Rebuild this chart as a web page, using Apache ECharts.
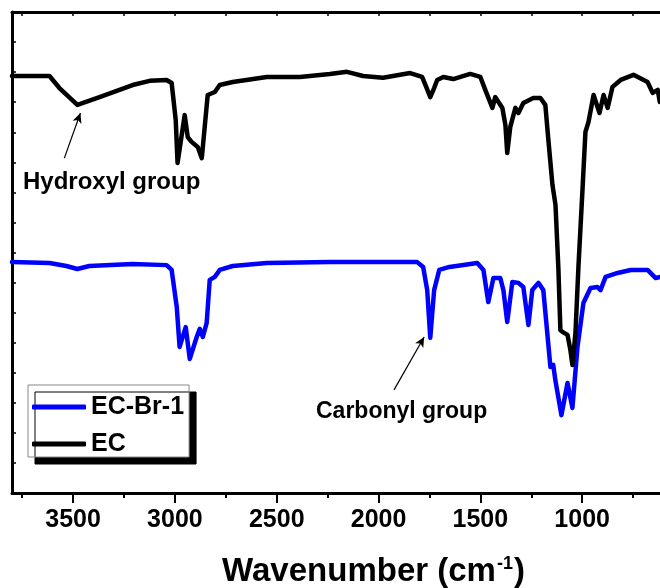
<!DOCTYPE html>
<html>
<head>
<meta charset="utf-8">
<script src="https://cdn.jsdelivr.net/npm/echarts@6/dist/echarts.min.js"></script>
<style>
html,body{margin:0;padding:0;background:#fff;}
#chart{width:660px;height:588px;}
</style>
</head>
<body>
<div id="chart"></div>
<script>
// FTIR spectra: wavenumber (cm-1) and transmittance (a.u., offset)
const EC_WN = [3800,3616,3567,3479,3370,3208,3124,3041,3016,2996,2987,2952,2937,2918,2888,2868,2839,2804,2780,2716,2549,2386,2239,2155,2076,1978,1845,1786,1766,1746,1727,1712,1682,1633,1550,1500,1476,1441,1427,1392,1377,1368,1353,1328,1313,1289,1240,1205,1181,1166,1146,1131,1117,1107,1097,1072,1058,1048,1033,1018,998,984,969,944,915,895,875,851,811,748,679,654,629,619];
const EC_T = [138.7,138.7,134.7,129.1,131.7,135.7,137.1,137.4,136.4,124.1,109.8,125.7,118.4,116.8,115.1,111.4,132.4,133.4,135.7,136.7,138.4,138.4,139.4,140.1,138.7,138.1,139.7,138.4,135.1,131.7,134.7,137.4,138.4,137.7,139.4,138.4,134.1,128.1,131.7,128.1,122.4,113.1,121.8,128.1,126.4,129.7,131.4,131.4,129.1,117.4,102.5,95.8,74.9,54.2,53.6,52.6,47.6,42.6,53.2,75.8,101.5,120.1,123.4,132.4,126.4,132.4,128.1,135.1,137.4,139.1,136.7,133.1,134.1,130.1];

const BR_WN = [3800,3616,3533,3479,3420,3208,3041,3016,2991,2977,2947,2927,2893,2878,2863,2844,2829,2804,2780,2716,2549,2239,1810,1781,1761,1746,1727,1702,1652,1515,1485,1461,1436,1402,1387,1368,1343,1313,1289,1264,1245,1215,1191,1156,1142,1132,1102,1072,1048,1023,994,959,925,910,885,826,762,679,639,615];
const BR_T = [76.8,76.5,75.5,74.5,75.5,76.2,75.8,74.2,61.9,48.6,55.2,44.6,51.9,54.6,51.9,56.6,70.9,71.9,74.2,75.5,76.5,76.8,76.8,75.2,67.5,51.6,67.5,74.2,75.2,76.5,74.2,63.5,71.5,71.5,67.5,56.9,70.2,69.9,68.5,55.9,67.5,69.9,67.5,41.9,42.6,37.6,25.9,36.6,28.3,48.6,63.2,68.2,68.5,67.5,71.9,73.2,74.2,74.2,71.5,71.9];

const SERIES_NAMES = ['EC-Br-1', 'EC'];
const MAJOR_TICKS = [1000, 1500, 2000, 2500, 3000, 3500];
const MINOR_TICKS = [750, 1250, 1750, 2250, 2750, 3250, 3750];
const TOP_TICKS = [750, 1000, 1250, 1500, 1750, 2000, 2250, 2500, 2750, 3000, 3250, 3500, 3750];
const X_MIN = 500, X_MAX = 3800, Y_MIN = 0, Y_MAX = 160, Y_STEP = 10;

// annotation arrows in data coordinates [wavenumber, value]
const ARROW_OH = [[3543, 111.4], [3464, 126.4]];
const ARROW_CO = [[1924, 34.3], [1776, 51.9]];

const FONT = '"Liberation Sans", Arial, Helvetica, sans-serif';

const ecData = EC_WN.map((w, i) => [w, EC_T[i]]);
const brData = BR_WN.map((w, i) => [w, BR_T[i]]);

const chart = echarts.init(document.getElementById('chart'), null, {renderer: 'canvas'});

const hiddenAxisBase = {
  type: 'value', min: X_MIN, max: X_MAX, inverse: true,
  axisLabel: {show: false}, splitLine: {show: false}
};

const option = {
  animation: false,
  backgroundColor: '#fff',
  grid: {left: 12, top: 12, width: 672, height: 481, containLabel: false, outerBoundsMode: 'none'},
  xAxis: [
    {
      type: 'value', min: X_MIN, max: X_MAX, inverse: true, position: 'bottom',
      axisLine: {show: true, onZero: false, lineStyle: {color: '#000', width: 3}},
      axisTick: {show: true, inside: false, length: 10, customValues: MAJOR_TICKS, lineStyle: {color: '#000', width: 2}},
      axisLabel: {show: true, customValues: MAJOR_TICKS, margin: 15, fontSize: 25, fontWeight: 'bold', color: '#000', fontFamily: FONT,
        formatter: function (v) { return String(v); }},
      splitLine: {show: false},
      name: '{a|Wavenumber (cm}{s|-1}{a|)}',
      nameLocation: 'middle',
      nameGap: 62,
      nameTextStyle: {
        fontSize: 33, fontWeight: 'bold', color: '#000', fontFamily: FONT,
        padding: [0, 0, 0, 51],
        rich: {
          a: {fontSize: 33, fontWeight: 'bold', color: '#000', fontFamily: FONT},
          s: {fontSize: 18, fontWeight: 'bold', color: '#000', fontFamily: FONT, verticalAlign: 'top', padding: [0, 1, 14, 1]}
        }
      }
    },
    Object.assign({}, hiddenAxisBase, {
      position: 'bottom',
      axisLine: {show: false, onZero: false},
      axisTick: {show: true, inside: false, length: 5, customValues: MINOR_TICKS, lineStyle: {color: '#000', width: 2}}
    }),
    Object.assign({}, hiddenAxisBase, {
      position: 'top',
      axisLine: {show: true, onZero: false, lineStyle: {color: '#000', width: 3}},
      axisTick: {show: true, inside: true, length: 4, customValues: TOP_TICKS, lineStyle: {color: '#000', width: 1.5}}
    })
  ],
  yAxis: {
    type: 'value', min: Y_MIN, max: Y_MAX, interval: Y_STEP,
    axisLine: {show: true, onZero: false, lineStyle: {color: '#000', width: 3}},
    axisTick: {show: true, inside: true, length: 4, lineStyle: {color: '#000', width: 1.5}},
    axisLabel: {show: false},
    splitLine: {show: false}
  },
  legend: {
    data: SERIES_NAMES,
    orient: 'vertical',
    left: 28, top: 385,
    padding: [9, 5, 0, 4],
    itemGap: 11,
    itemWidth: 54, itemHeight: 5,
    icon: 'roundRect',
    backgroundColor: '#fff',
    borderColor: '#888', borderWidth: 1, borderRadius: 0,
    shadowColor: '#000', shadowBlur: 0, shadowOffsetX: 7, shadowOffsetY: 7,
    textStyle: {fontSize: 25, fontWeight: 'bold', color: '#000', fontFamily: FONT, lineHeight: 26}
  },
  graphic: [
    {type: 'text', left: 23, top: 170, style: {text: 'Hydroxyl group', fill: '#000', font: 'bold 24px ' + FONT}},
    {type: 'text', left: 316, top: 400, style: {text: 'Carbonyl group', fill: '#000', font: 'bold 23px ' + FONT}}
  ],
  series: [
    {
      name: SERIES_NAMES[0], type: 'line', xAxisIndex: 0, yAxisIndex: 0,
      data: brData, showSymbol: false, symbol: 'none',
      lineStyle: {color: '#0000ff', width: 4.5, join: 'round', cap: 'round'},
      itemStyle: {color: '#0000ff'}
    },
    {
      name: SERIES_NAMES[1], type: 'line', xAxisIndex: 0, yAxisIndex: 0,
      data: ecData, showSymbol: false, symbol: 'none',
      lineStyle: {color: '#000', width: 4.5, join: 'round', cap: 'round'},
      itemStyle: {color: '#000'},
      markLine: {
        silent: true, animation: false,
        symbol: ['none', 'arrow'], symbolSize: [7, 10],
        label: {show: false},
        lineStyle: {color: '#000', width: 1.2, type: 'solid'},
        data: [
          [{coord: ARROW_OH[0]}, {coord: ARROW_OH[1]}],
          [{coord: ARROW_CO[0]}, {coord: ARROW_CO[1]}]
        ]
      }
    }
  ]
};
chart.setOption(option);
</script>
</body>
</html>
